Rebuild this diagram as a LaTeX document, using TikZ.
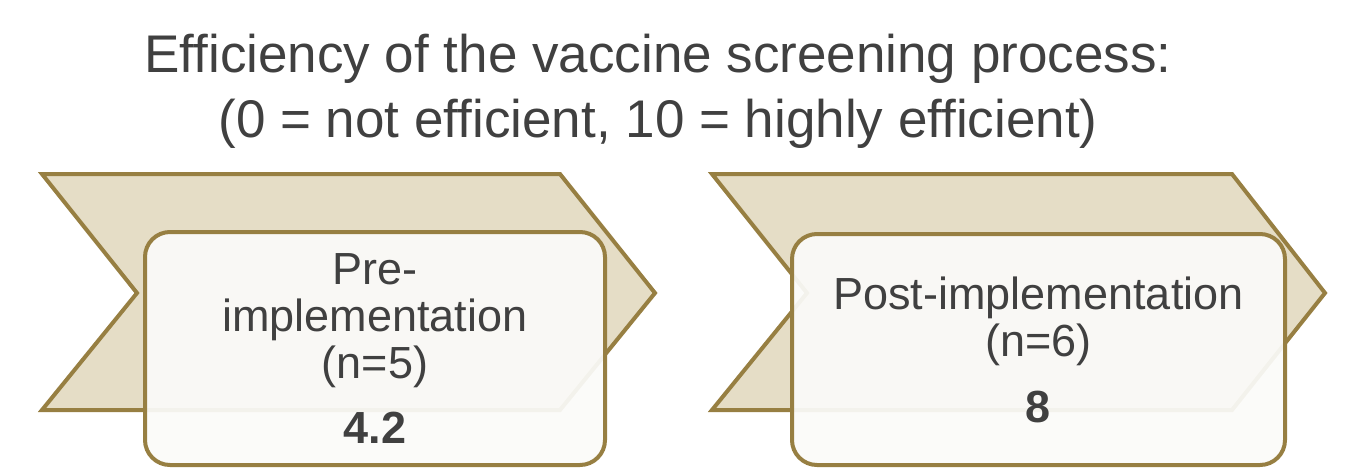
\documentclass[tikz,border=0pt]{standalone}
\usepackage{fontspec}
\setmainfont{Liberation Sans}
\usepackage{xcolor}
\usetikzlibrary{positioning}

\definecolor{edgegold}{HTML}{977F42}
\definecolor{chevfill}{HTML}{E5DDC6}
\definecolor{panelfill}{HTML}{FBFBF9}
\definecolor{textgray}{HTML}{404040}

\tikzset{
  chevron/.style={draw=edgegold, line width=4pt, fill=chevfill, line join=miter},
  panel/.style={draw=edgegold, line width=4pt, fill=panelfill, fill opacity=0.93,
    text opacity=1, rounded corners=25pt, align=center, text=textgray,
    font=\fontsize{45}{47}\selectfont, inner sep=0pt},
  heading/.style={align=center, text=textgray, font=\fontsize{53}{65}\selectfont},
}

\begin{document}
\begin{tikzpicture}[x=1pt, y=-1pt]
    \useasboundingbox (0,0) rectangle (1361,467);

    % title
    \node[heading, anchor=base] (title) at (658,137)
        {Efficiency of the vaccine screening process:\\(0 = not efficient, 10 = highly efficient)};

    % chevrons
    \draw[chevron] (42,174) -- (560,174) -- (655,293) -- (560,410) -- (42,410) -- (137,293) -- cycle;
    \draw[chevron] (712,174) -- (1232,174) -- (1325,293) -- (1232,410) -- (712,410) -- (807,293) -- cycle;

    % boxes
    \node[panel, minimum width=460pt, minimum height=233pt] (pre) at (375,348.5)
        {Pre-\\implementation\\(n=5)\\[18pt]\textbf{4.2}};
    \node[panel, minimum width=493pt, minimum height=231pt] (post) at (1038.5,349.5)
        {Post-implementation\\(n=6)\\[19pt]\textbf{8}};
\end{tikzpicture}
\end{document}
